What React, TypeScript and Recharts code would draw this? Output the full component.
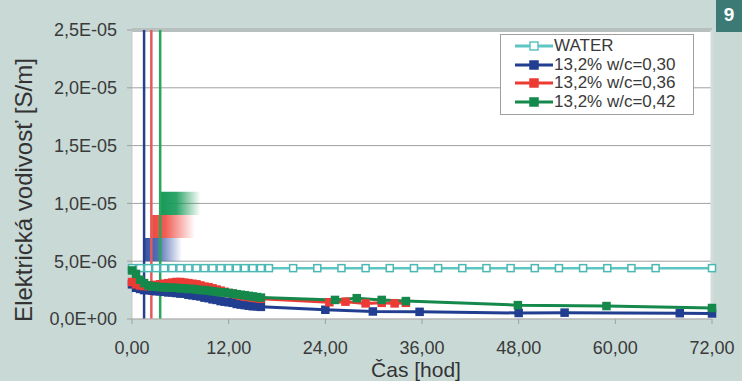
import React from 'react';
import {
  LineChart,
  Line,
  XAxis,
  YAxis,
  CartesianGrid,
  ReferenceLine,
  ReferenceArea,
} from 'recharts';

// time [h]
const xTicks = [0, 12, 24, 36, 48, 60, 72];
const yTicks = [0, 5e-6, 1e-5, 1.5e-5, 2e-5, 2.5e-5];

const waterTimes = [0, 1, 2, 3, 4, 5, 6, 7, 8, 9, 10, 11, 12, 13, 14, 15, 16, 17, 20, 23, 26, 29, 32, 35, 38, 41, 44, 47, 50, 53, 56, 59, 62, 65, 72];
const waterValues = [
  4.4e-6, 4.4e-6, 4.4e-6, 4.4e-6, 4.4e-6, 4.4e-6, 4.4e-6, 4.4e-6, 4.4e-6, 4.4e-6, 4.4e-6, 4.4e-6,
  4.4e-6, 4.4e-6, 4.4e-6, 4.4e-6, 4.4e-6, 4.4e-6, 4.4e-6, 4.4e-6, 4.4e-6, 4.4e-6, 4.4e-6, 4.4e-6,
  4.4e-6, 4.4e-6, 4.4e-6, 4.4e-6, 4.4e-6, 4.4e-6, 4.4e-6, 4.4e-6, 4.4e-6, 4.4e-6, 4.4e-6,
];

const wc30Times = [0, 0.5, 1, 1.5, 2, 2.5, 3, 3.5, 4, 4.5, 5, 5.5, 6, 6.5, 7, 7.5, 8, 8.5, 9, 9.5, 10, 10.5, 11, 11.5, 12, 12.5, 13, 13.5, 14, 14.5, 15, 15.5, 16, 24, 29.9, 35.7, 48, 53.7, 68, 72];
const wc30Values = [
  3.0e-6, 2.7e-6, 2.6e-6, 2.5e-6, 2.5e-6, 2.45e-6, 2.4e-6, 2.4e-6, 2.35e-6, 2.3e-6, 2.3e-6, 2.25e-6,
  2.2e-6, 2.2e-6, 2.1e-6, 2.05e-6, 2.0e-6, 1.95e-6, 1.85e-6, 1.8e-6, 1.7e-6, 1.65e-6, 1.55e-6, 1.5e-6,
  1.45e-6, 1.4e-6, 1.3e-6, 1.25e-6, 1.2e-6, 1.15e-6, 1.1e-6, 1.1e-6, 1.05e-6, 0.8e-6, 0.65e-6, 0.62e-6,
  0.52e-6, 0.55e-6, 0.5e-6, 0.48e-6,
];

const wc36Times = [0, 0.5, 1, 1.5, 2, 2.5, 3, 3.5, 4, 4.5, 5, 5.5, 6, 6.5, 7, 7.5, 8, 8.5, 9, 9.5, 10, 10.5, 11, 11.5, 12, 12.5, 13, 13.5, 14, 14.5, 15, 15.5, 16, 24.5, 26.5, 29, 31, 32.6, 34];
const wc36Values = [
  3.2e-6, 3.0e-6, 2.9e-6, 2.85e-6, 2.85e-6, 2.9e-6, 2.95e-6, 3.0e-6, 3.05e-6, 3.1e-6, 3.15e-6, 3.2e-6,
  3.2e-6, 3.15e-6, 3.1e-6, 3.05e-6, 3.0e-6, 2.9e-6, 2.8e-6, 2.75e-6, 2.65e-6, 2.55e-6, 2.45e-6, 2.35e-6,
  2.25e-6, 2.2e-6, 2.1e-6, 2.0e-6, 1.95e-6, 1.9e-6, 1.85e-6, 1.8e-6, 1.75e-6, 1.45e-6, 1.5e-6, 1.35e-6,
  1.4e-6, 1.35e-6, 1.4e-6,
];

const wc42Times = [0, 0.5, 1, 1.5, 2, 2.5, 3, 3.5, 4, 4.5, 5, 5.5, 6, 6.5, 7, 7.5, 8, 8.5, 9, 9.5, 10, 10.5, 11, 11.5, 12, 12.5, 13, 13.5, 14, 14.5, 15, 15.5, 16, 25.2, 27.9, 31, 34, 47.9, 58.9, 72];
const wc42Values = [
  4.2e-6, 3.9e-6, 3.4e-6, 3.1e-6, 2.9e-6, 2.8e-6, 2.8e-6, 2.75e-6, 2.75e-6, 2.7e-6, 2.7e-6, 2.7e-6,
  2.65e-6, 2.65e-6, 2.6e-6, 2.6e-6, 2.55e-6, 2.5e-6, 2.5e-6, 2.45e-6, 2.4e-6, 2.35e-6, 2.3e-6, 2.3e-6,
  2.25e-6, 2.2e-6, 2.15e-6, 2.1e-6, 2.05e-6, 2.0e-6, 1.95e-6, 1.9e-6, 1.85e-6, 1.65e-6, 1.8e-6, 1.65e-6,
  1.55e-6, 1.2e-6, 1.12e-6, 0.95e-6,
];

// start of each mix (vertical markers) [h]
const startTimes = { wc30: 1.5, wc36: 2.4, wc42: 3.5 };

const zip = (ts: number[], vs: number[]) => ts.map((t, i) => ({ t, v: vs[i] }));
const waterData = zip(waterTimes, waterValues);
const wc30Data = zip(wc30Times, wc30Values);
const wc36Data = zip(wc36Times, wc36Values);
const wc42Data = zip(wc42Times, wc42Values);

const FONT = '"Liberation Sans", Arial, sans-serif';
const BLUE = '#223e90';
const RED = '#ec3b35';
const GREEN = '#15894b';
const TEAL = '#5cc6c2';

const fmtX = (v: number) => v.toFixed(2).replace('.', ',');
const fmtY = (v: number) => {
  if (v === 0) return '0,0E+00';
  const [m, e] = v.toExponential(1).split('e');
  const n = parseInt(e, 10);
  const exp = (n < 0 ? '-' : '+') + String(Math.abs(n)).padStart(2, '0');
  return `${m.replace('.', ',')}E${exp}`;
};

const squareDot = (fill: string, stroke: string, size: number) => (props: any) => {
  const { cx, cy, index } = props;
  if (cx == null || cy == null) return <g key={index} />;
  return (
    <rect key={index} x={cx - size / 2} y={cy - size / 2} width={size} height={size}
      fill={fill} stroke={stroke} strokeWidth={1.5} />
  );
};

const legendItems = [
  { name: 'WATER', color: TEAL, fill: '#fff' },
  { name: '13,2% w/c=0,30', color: BLUE, fill: BLUE },
  { name: '13,2% w/c=0,36', color: RED, fill: RED },
  { name: '13,2% w/c=0,42', color: GREEN, fill: GREEN },
];

function LegendBox() {
  return (
    <div style={{
      position: 'absolute', left: 500, top: 34, width: 194, boxSizing: 'border-box',
      background: '#fff', border: '1px solid #a0a0a0', padding: '2px 0 3px 14px', fontFamily: FONT,
    }}>
      {legendItems.map((it) => (
        <div key={it.name} style={{ display: 'flex', alignItems: 'center', height: 18.5, fontSize: 17, color: '#3a3a3a' }}>
          <svg width={38} height={12} style={{ marginRight: 1 }}>
            <line x1={0} y1={6} x2={38} y2={6} stroke={it.color} strokeWidth={3} />
            <rect x={15} y={2} width={8} height={8} fill={it.fill} stroke={it.color} strokeWidth={1.5} />
          </svg>
          <span>{it.name}</span>
        </div>
      ))}
    </div>
  );
}

const YTitle = () => (
  <text x={32} y={190} transform="rotate(-90, 32, 190)" textAnchor="middle"
    fontFamily={FONT} fontSize={24} fill="#333">
    Elektrická vodivosť [S/m]
  </text>
);

const XTitle = () => (
  <text x={416} y={377} textAnchor="middle" fontFamily={FONT} fontSize={21} fill="#333">
    Čas [hod]
  </text>
);

export default function App() {
  return (
    <div style={{ position: 'absolute', left: 0, top: 0, width: 742, height: 381, background: '#c9d9d6', overflow: 'hidden' }}>
      <LineChart width={742} height={381} data={waterData} margin={{ top: 30, right: 30, bottom: 0, left: 0 }}>
        <defs>
          <linearGradient id="fadeBlue" x1="0" y1="0" x2="1" y2="0">
            <stop offset="0%" stopColor="#3556a8" stopOpacity={1} />
            <stop offset="35%" stopColor="#3556a8" stopOpacity={0.85} />
            <stop offset="100%" stopColor="#3556a8" stopOpacity={0} />
          </linearGradient>
          <linearGradient id="fadeRed" x1="0" y1="0" x2="1" y2="0">
            <stop offset="0%" stopColor="#ee4a40" stopOpacity={1} />
            <stop offset="30%" stopColor="#ee4a40" stopOpacity={0.9} />
            <stop offset="100%" stopColor="#ee4a40" stopOpacity={0} />
          </linearGradient>
          <linearGradient id="fadeGreen" x1="0" y1="0" x2="1" y2="0">
            <stop offset="0%" stopColor="#169a58" stopOpacity={1} />
            <stop offset="40%" stopColor="#169a58" stopOpacity={0.9} />
            <stop offset="100%" stopColor="#169a58" stopOpacity={0} />
          </linearGradient>
        </defs>
        <CartesianGrid vertical={false} stroke="#a0a0a0" fill="#fff" />
        <XAxis
          dataKey="t"
          type="number"
          domain={[0, 72]}
          ticks={xTicks}
          tickFormatter={fmtX}
          height={62}
          tick={{ fill: '#3a3a3a', fontSize: 18, fontFamily: FONT }}
          axisLine={{ stroke: '#c0c0c0' }}
          tickLine={{ stroke: '#a0a0a0' }}
          tickSize={5}
          tickMargin={17}
          label={<XTitle />}
        />
        <YAxis
          type="number"
          domain={[0, 2.5e-5]}
          ticks={yTicks}
          tickFormatter={fmtY}
          width={132}
          tick={{ fill: '#3a3a3a', fontSize: 18, fontFamily: FONT }}
          axisLine={{ stroke: '#c8c8c8' }}
          tickLine={{ stroke: '#a0a0a0' }}
          tickSize={5}
          tickMargin={10}
          label={<YTitle />}
        />
        <ReferenceLine y={2.5e-5} stroke="#b7bfbf" strokeWidth={4} />
        <ReferenceLine x={72} stroke="#d4dcdc" strokeWidth={3} />
        <ReferenceArea x1={1.6} x2={6.2} y1={5.0e-6} y2={7.0e-6} fill="url(#fadeBlue)" fillOpacity={1} stroke="none" />
        <ReferenceArea x1={2.5} x2={7.8} y1={7.0e-6} y2={9.0e-6} fill="url(#fadeRed)" fillOpacity={1} stroke="none" />
        <ReferenceArea x1={3.5} x2={8.5} y1={9.0e-6} y2={1.1e-5} fill="url(#fadeGreen)" fillOpacity={1} stroke="none" />
        <Line data={waterData} dataKey="v" type="linear" stroke={TEAL} strokeWidth={2.5}
          dot={squareDot('#fff', '#4bb8b4', 7)} activeDot={false} isAnimationActive={false} />
        <Line data={wc30Data} dataKey="v" type="linear" stroke={BLUE} strokeWidth={3}
          dot={squareDot(BLUE, BLUE, 7)} activeDot={false} isAnimationActive={false} />
        <Line data={wc36Data} dataKey="v" type="linear" stroke={RED} strokeWidth={3}
          dot={squareDot(RED, RED, 7)} activeDot={false} isAnimationActive={false} />
        <Line data={wc42Data} dataKey="v" type="linear" stroke={GREEN} strokeWidth={3}
          dot={squareDot(GREEN, GREEN, 7)} activeDot={false} isAnimationActive={false} />
        <ReferenceLine x={startTimes.wc30} stroke="#2a3f8c" strokeWidth={2.5} />
        <ReferenceLine x={startTimes.wc36} stroke="#e45a5a" strokeWidth={2.5} />
        <ReferenceLine x={startTimes.wc42} stroke="#2aa65a" strokeWidth={2.5} />
      </LineChart>
      <LegendBox />
      <div style={{
        position: 'absolute', left: 716, top: 0, width: 26, height: 32, background: '#3c7a76',
        color: '#fff', fontFamily: FONT, fontWeight: 'bold', fontSize: 19, textAlign: 'center', lineHeight: '30px',
      }}>
        9
      </div>
    </div>
  );
}
